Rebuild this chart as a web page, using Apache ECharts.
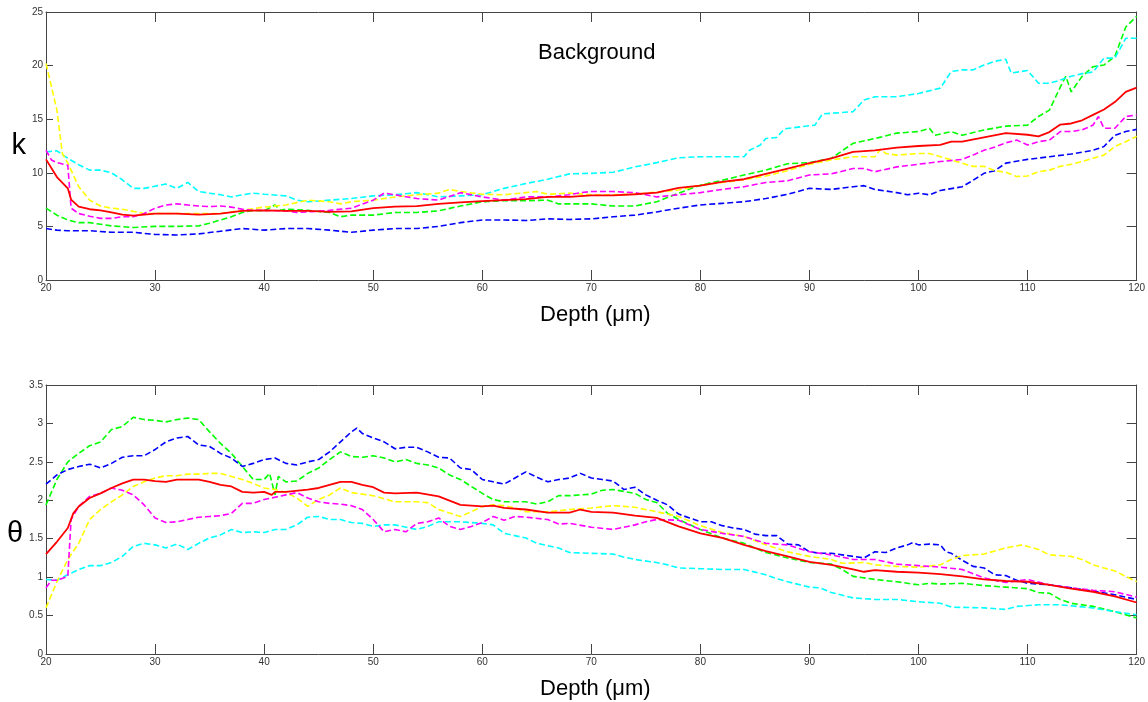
<!DOCTYPE html>
<html>
<head>
<meta charset="utf-8">
<script src="https://cdn.jsdelivr.net/npm/echarts@6/dist/echarts.min.js"></script>
<style>html,body{margin:0;padding:0;background:#fff}#c{width:1148px;height:702px}</style>
</head>
<body>
<div id="c"></div>
<script>
// ---- k (top panel) ----
var kRed = [[20,11.25],[21,9.6],[22,8.55],[22.3,7.5],[23,6.85],[24,6.6],[25,6.5],[26,6.3],[27,6.1],[28,6.0],[30,6.2],[32,6.2],[34,6.1],[36,6.2],[38,6.45],[40,6.5],[42,6.45],[44,6.45],[46,6.35],[48,6.4],[50,6.7],[52,6.85],[54,6.9],[56,7.1],[58,7.25],[60,7.35],[62,7.45],[64,7.55],[66,7.75],[68,7.75],[70,7.9],[72,7.9],[74,8.0],[76,8.15],[78,8.6],[80,8.8],[82,9.15],[84,9.4],[86,9.9],[88,10.4],[90,10.9],[92,11.35],[94,11.95],[96,12.1],[98,12.35],[100,12.5],[102,12.6],[103,12.9],[104,12.9],[106,13.3],[108,13.7],[110,13.55],[111,13.4],[112,13.8],[113,14.5],[114,14.6],[115,14.9],[116,15.4],[117,15.9],[118,16.6],[119,17.55],[120,17.95]];
var kBlue = [[20,4.8],[21,4.65],[22,4.6],[24,4.6],[26,4.45],[28,4.45],[30,4.25],[32,4.2],[34,4.3],[36,4.55],[38,4.8],[40,4.65],[42,4.8],[44,4.8],[46,4.65],[48,4.45],[50,4.65],[52,4.8],[54,4.8],[56,5.0],[58,5.35],[60,5.6],[62,5.6],[64,5.55],[66,5.7],[68,5.65],[70,5.7],[72,5.9],[74,6.05],[76,6.35],[78,6.7],[80,7.0],[82,7.15],[84,7.3],[86,7.6],[88,8.0],[90,8.55],[92,8.45],[94,8.7],[95,8.8],[96,8.45],[98,8.15],[99,7.95],[100,8.1],[101,7.95],[102,8.35],[104,8.7],[105,9.3],[106,9.95],[107,10.2],[108,10.9],[110,11.25],[112,11.5],[114,11.75],[116,12.1],[117,12.45],[118,13.5],[119,13.85],[120,14.05]];
var kGreen = [[20,6.7],[21,6.05],[22,5.6],[23,5.35],[24,5.35],[26,5.05],[28,4.9],[30,5.0],[32,5.0],[34,5.05],[35,5.3],[36,5.6],[37,5.9],[38,6.3],[39,6.5],[40,6.45],[41,7.0],[41.5,6.5],[42,6.6],[44,6.5],[46,6.3],[47,5.9],[48,6.05],[50,6.05],[52,6.3],[54,6.3],[56,6.45],[58,6.9],[60,7.3],[62,7.4],[64,7.4],[66,7.45],[67,7.1],[68,7.1],[70,7.1],[72,6.9],[74,6.9],[76,7.3],[78,8.1],[80,8.85],[82,9.3],[84,9.8],[86,10.25],[88,10.85],[90,10.95],[92,11.35],[94,12.75],[96,13.2],[98,13.7],[100,13.85],[101,14.15],[101.5,13.5],[103,13.85],[104,13.5],[106,14.0],[108,14.35],[110,14.45],[111,15.25],[112,15.85],[113,18.0],[113.5,19.0],[114,17.55],[115,19.0],[116,19.9],[117,20.05],[118,20.85],[119,23.6],[120,24.6]];
var kCyan = [[20,11.95],[21,12.05],[22,11.35],[23,10.75],[24,10.25],[25,10.25],[26,10.0],[27,9.35],[28,8.55],[29,8.55],[30,8.75],[31,8.95],[32,8.55],[33,9.1],[34,8.25],[35,8.1],[36,7.95],[37,7.75],[38,7.95],[39,8.1],[40,8.0],[42,7.85],[43,7.45],[44,7.3],[46,7.45],[48,7.6],[50,7.85],[52,7.95],[54,8.15],[56,7.75],[58,7.85],[60,7.95],[62,8.55],[64,9.0],[66,9.4],[68,9.9],[70,9.95],[72,10.05],[74,10.55],[76,10.95],[78,11.4],[80,11.5],[82,11.5],[84,11.5],[84.5,12.1],[85.5,12.6],[86,13.2],[87,13.3],[87.7,14.1],[90.5,14.45],[91.2,15.5],[92,15.55],[94,15.7],[95,16.8],[96,17.1],[98,17.1],[100,17.4],[102,17.9],[103,19.45],[104,19.6],[105,19.6],[106,20.05],[107,20.4],[108,20.6],[108.5,19.3],[110,19.55],[111,18.35],[112,18.35],[113,18.65],[114,19.0],[115,19.25],[116,19.4],[117,20.7],[118,20.7],[119,22.55],[120,22.55]];
var kMagenta = [[20,12.1],[20.5,11.2],[21,10.95],[22,10.7],[22.3,6.7],[23,6.2],[24,5.95],[25,5.75],[26,5.75],[27,5.9],[28,5.9],[29,6.2],[30,6.7],[31,7.0],[32,7.1],[33,7.0],[34,6.9],[35,6.85],[36,6.9],[37,6.8],[38,6.6],[39,6.5],[40,6.5],[42,6.45],[43,6.3],[44,6.35],[46,6.5],[48,6.7],[50,7.45],[51,8.1],[52,7.95],[54,7.6],[56,7.45],[58,8.15],[60,7.75],[62,7.45],[64,7.75],[66,7.75],[68,7.95],[69,8.15],[70,8.25],[72,8.25],[74,8.15],[76,7.75],[78,7.95],[80,8.15],[82,8.45],[84,8.7],[86,9.1],[88,9.25],[90,9.8],[92,9.9],[94,10.4],[95,10.4],[96,10.1],[98,10.55],[100,10.8],[102,11.05],[104,11.25],[105,11.65],[106,12.1],[107,12.4],[108,12.8],[109,13.05],[110,12.6],[111,12.9],[112,13.05],[113,13.85],[114,13.85],[115,14.0],[116,14.45],[116.5,15.25],[117,14.15],[118,14.15],[119,15.25],[120,15.4]];
var kYellow = [[20,20.2],[21,15.85],[21.5,11.8],[22,10.9],[23,8.7],[24,7.45],[25,6.9],[26,6.7],[27,6.6],[28,6.4],[29,6.2],[30,6.2],[32,6.2],[34,6.2],[36,6.2],[38,6.5],[40,6.8],[42,7.0],[44,7.45],[46,7.3],[47,7.1],[48,7.3],[50,7.45],[52,7.75],[54,7.95],[56,8.1],[57,8.45],[58,8.25],[60,8.0],[62,7.95],[64,8.15],[65,8.25],[66,8.0],[68,8.1],[70,7.95],[72,7.95],[74,8.0],[76,8.2],[78,8.4],[80,8.85],[82,9.1],[84,9.35],[86,9.7],[88,10.2],[90,10.8],[92,11.2],[94,11.5],[96,11.5],[96.5,12.2],[97,11.8],[98,11.65],[100,11.8],[101,11.8],[102,11.5],[103,11.2],[104,10.9],[105,10.6],[106,10.6],[107,10.2],[108,10.05],[109,9.65],[110,9.7],[111,10.1],[112,10.25],[113,10.6],[114,10.8],[115,11.05],[116,11.35],[117,11.65],[118,12.45],[119,12.9],[120,13.4]];

// ---- theta (bottom panel) ----
var tRed = [[20,1.3],[21,1.46],[22,1.64],[22.5,1.83],[23,1.92],[24,2.03],[25,2.09],[26,2.16],[27,2.22],[28,2.27],[29,2.27],[30,2.25],[31,2.24],[32,2.27],[33,2.27],[34,2.27],[35,2.24],[36,2.2],[37,2.18],[38,2.11],[39,2.1],[40,2.11],[40.7,2.07],[41,2.11],[42,2.11],[44,2.14],[45,2.16],[46,2.2],[47,2.24],[48,2.24],[49,2.2],[50,2.17],[51,2.1],[52,2.09],[54,2.1],[56,2.05],[58,1.94],[60,1.92],[61,1.93],[62,1.9],[64,1.88],[66,1.84],[68,1.84],[69,1.88],[70,1.85],[72,1.84],[74,1.8],[76,1.77],[78,1.66],[80,1.57],[82,1.51],[84,1.42],[86,1.34],[88,1.27],[90,1.2],[92,1.16],[94,1.1],[95,1.07],[96,1.09],[98,1.07],[100,1.06],[102,1.04],[104,1.01],[106,0.97],[108,0.95],[110,0.94],[112,0.9],[114,0.85],[116,0.81],[118,0.75],[120,0.67]];
var tBlue = [[20,2.21],[21,2.33],[22,2.4],[23,2.44],[24,2.47],[25,2.42],[26,2.48],[27,2.56],[28,2.58],[29,2.58],[30,2.66],[31,2.76],[32,2.81],[33,2.83],[34,2.72],[35,2.7],[36,2.61],[37,2.55],[38,2.44],[39,2.48],[40,2.53],[41,2.55],[42,2.48],[43,2.46],[44,2.5],[45,2.53],[46,2.63],[47,2.76],[48,2.89],[48.5,2.94],[49,2.87],[50,2.81],[51,2.76],[52,2.67],[53,2.69],[54,2.69],[55,2.63],[56,2.56],[57,2.55],[58,2.42],[59,2.4],[60,2.27],[61,2.24],[62,2.21],[63,2.29],[64,2.37],[65,2.3],[66,2.24],[67,2.27],[68,2.29],[69,2.35],[70,2.29],[71,2.27],[72,2.25],[73,2.14],[74,2.17],[75,2.07],[76,2.0],[77,1.94],[78,1.82],[79,1.77],[80,1.72],[81,1.72],[82,1.67],[83,1.64],[84,1.62],[85,1.56],[86,1.54],[87,1.54],[88,1.43],[89,1.42],[90,1.33],[91,1.31],[92,1.31],[93,1.29],[94,1.27],[95,1.25],[96,1.33],[97,1.32],[98,1.38],[99,1.42],[99.5,1.45],[100,1.42],[101,1.43],[102,1.42],[102.5,1.33],[103,1.31],[104,1.22],[105,1.14],[106,1.12],[107,1.03],[108,1.02],[109,0.96],[110,0.92],[112,0.9],[114,0.86],[116,0.82],[118,0.77],[120,0.71]];
var tGreen = [[20,1.94],[21,2.27],[22,2.5],[23,2.61],[24,2.71],[25,2.76],[26,2.92],[27,2.96],[28,3.08],[29,3.05],[30,3.04],[31,3.02],[32,3.05],[33,3.07],[34,3.05],[35,2.89],[36,2.74],[37,2.61],[38,2.44],[39,2.27],[40,2.27],[40.5,2.35],[41,2.07],[41.3,2.31],[42,2.24],[43,2.25],[44,2.35],[45,2.42],[46,2.53],[47,2.63],[48,2.57],[49,2.56],[50,2.58],[51,2.55],[52,2.5],[53,2.53],[54,2.48],[55,2.46],[56,2.42],[57,2.33],[58,2.27],[59,2.18],[60,2.09],[61,2.01],[62,1.98],[64,1.98],[65,1.95],[66,1.98],[67,2.06],[68,2.06],[70,2.08],[71,2.13],[72,2.14],[74,2.09],[75,2.01],[76,1.97],[77,1.83],[78,1.75],[80,1.62],[82,1.51],[84,1.44],[86,1.32],[88,1.25],[90,1.19],[92,1.17],[93,1.1],[94,1.01],[96,0.97],[98,0.94],[100,0.9],[101,0.92],[102,0.91],[104,0.92],[106,0.89],[108,0.87],[110,0.85],[111,0.8],[112,0.79],[113,0.71],[114,0.66],[116,0.62],[118,0.55],[120,0.47]];
var tCyan = [[20,0.97],[21,0.96],[22,1.03],[23,1.1],[24,1.15],[25,1.15],[26,1.19],[27,1.27],[28,1.4],[29,1.44],[30,1.42],[31,1.38],[32,1.43],[33,1.36],[34,1.44],[35,1.51],[36,1.55],[37,1.62],[38,1.58],[39,1.59],[40,1.58],[41,1.62],[42,1.62],[43,1.68],[44,1.78],[45,1.79],[46,1.75],[47,1.75],[48,1.71],[49,1.7],[50,1.66],[51,1.68],[52,1.68],[54,1.62],[55,1.66],[56,1.72],[58,1.72],[60,1.7],[61,1.68],[62,1.57],[64,1.51],[65,1.44],[66,1.41],[67,1.38],[68,1.32],[70,1.31],[72,1.3],[73,1.26],[74,1.23],[76,1.19],[77,1.16],[78,1.12],[80,1.11],[82,1.1],[84,1.1],[86,1.03],[87,0.98],[88,0.94],[90,0.87],[91,0.86],[92,0.8],[94,0.73],[96,0.71],[98,0.71],[100,0.68],[102,0.66],[103,0.61],[106,0.6],[108,0.58],[109,0.62],[111,0.64],[113,0.64],[116,0.6],[118,0.55],[120,0.51]];
var tMagenta = [[20,0.86],[20.5,0.96],[21,0.96],[22,1.01],[22.3,1.75],[23,1.92],[24,2.05],[25,2.09],[26,2.16],[27,2.13],[28,2.07],[29,1.94],[30,1.77],[31,1.71],[32,1.72],[33,1.75],[34,1.78],[35,1.79],[36,1.8],[37,1.83],[38,1.96],[39,1.96],[40,2.01],[41,2.04],[42,2.07],[43,2.1],[44,2.03],[45,1.98],[46,1.96],[47,1.95],[48,1.93],[49,1.88],[50,1.75],[51,1.59],[52,1.62],[53,1.59],[54,1.7],[55,1.72],[56,1.77],[57,1.66],[58,1.62],[59,1.66],[60,1.71],[61,1.79],[62,1.74],[63,1.79],[64,1.78],[66,1.75],[67,1.69],[68,1.7],[70,1.65],[72,1.62],[74,1.68],[75,1.72],[76,1.75],[78,1.74],[80,1.62],[82,1.57],[84,1.53],[86,1.44],[88,1.42],[90,1.33],[92,1.29],[94,1.23],[96,1.23],[98,1.17],[100,1.15],[102,1.13],[104,1.1],[106,0.99],[108,0.93],[110,0.97],[112,0.9],[114,0.86],[116,0.83],[118,0.81],[120,0.74]];
var tYellow = [[20,0.6],[21,0.94],[22,1.23],[23,1.44],[24,1.75],[25,1.88],[26,1.98],[27,2.07],[28,2.18],[29,2.24],[30,2.29],[31,2.32],[32,2.32],[33,2.34],[34,2.34],[35,2.35],[36,2.35],[37,2.31],[38,2.27],[39,2.22],[40,2.16],[41,2.14],[42,2.1],[43,2.03],[44,1.92],[45,2.01],[46,2.07],[47,2.16],[48,2.1],[50,2.06],[52,1.98],[54,1.98],[55,1.97],[56,1.88],[58,1.79],[59,1.85],[60,1.92],[61,1.94],[62,1.93],[63,1.9],[64,1.85],[66,1.85],[68,1.88],[70,1.9],[72,1.93],[74,1.91],[76,1.85],[78,1.79],[80,1.67],[82,1.58],[84,1.53],[86,1.42],[88,1.33],[90,1.27],[92,1.23],[93,1.18],[95,1.19],[96,1.16],[98,1.14],[100,1.13],[102,1.16],[103,1.23],[104,1.28],[106,1.3],[108,1.38],[109.5,1.42],[111,1.36],[112,1.29],[114,1.27],[115,1.23],[116,1.16],[118,1.08],[120,0.94]];

var kTicks = [0,5,10,15,20,25];
var thetaTicks = [0,0.5,1,1.5,2,2.5,3,3.5];
var depthTicks = [20,30,40,50,60,70,80,90,100,110,120];

var FONT = 'Liberation Sans';
var labelStyle = {color:'#333', fontSize:10, fontFamily:FONT};

function xAxes(gi){
  return [
    {gridIndex:gi, type:'value', position:'bottom', min:depthTicks[0], max:depthTicks[depthTicks.length-1], interval:10,
     name:'Depth (\u03bcm)', nameLocation:'middle', nameGap:24,
     nameTextStyle:{fontSize:22, fontFamily:FONT, color:'#000', padding:[0,0,0,8]},
     axisLine:{show:true, onZero:false, lineStyle:{color:'#444'}},
     axisTick:{show:true, inside:true, length:10, lineStyle:{color:'#444'}},
     axisLabel:Object.assign({margin:3}, labelStyle),
     splitLine:{show:false}},
    {gridIndex:gi, type:'value', position:'top', min:depthTicks[0], max:depthTicks[depthTicks.length-1], interval:10,
     axisLine:{show:true, onZero:false, lineStyle:{color:'#444'}},
     axisTick:{show:true, inside:true, length:10, lineStyle:{color:'#444'}},
     axisLabel:{show:false}, splitLine:{show:false}}
  ];
}
function yAxes(gi, ticks, name, vAlign){
  var max = ticks[ticks.length-1], interval = ticks[1]-ticks[0];
  return [
    {gridIndex:gi, type:'value', position:'left', min:0, max:max, interval:interval,
     name:name, nameLocation:'middle', nameRotate:0, nameGap:18,
     nameTextStyle:{fontSize:29, fontFamily:FONT, color:'#000', verticalAlign:vAlign, lineHeight:29},
     axisLine:{show:true, onZero:false, lineStyle:{color:'#444'}},
     axisTick:{show:true, inside:true, length:7, lineStyle:{color:'#444'}},
     axisLabel:Object.assign({margin:3}, labelStyle),
     splitLine:{show:false}},
    {gridIndex:gi, type:'value', position:'right', min:0, max:max, interval:interval,
     axisLine:{show:true, onZero:false, lineStyle:{color:'#444'}},
     axisTick:{show:true, inside:true, length:10, lineStyle:{color:'#444'}},
     axisLabel:{show:false}, splitLine:{show:false}}
  ];
}

function mk(data, color, xi, yi, dashed){
  return {type:'line', data:data, xAxisIndex:xi, yAxisIndex:yi, showSymbol:false, symbol:'none',
    smooth:false, animation:false, z: dashed?2:3,
    lineStyle:{color:color, width: dashed?1.6:1.8, type: dashed?[6,3]:'solid'}};
}

var chart = echarts.init(document.getElementById('c'), null, {renderer:'canvas'});
chart.setOption({
  animation:false,
  backgroundColor:'#fff',
  title:{text:'Background', left:533, top:37, textStyle:{fontSize:22, fontWeight:'normal', fontFamily:FONT, color:'#000'}},
  grid:[
    {left:46, top:12, width:1091, height:268},
    {left:46, top:385, width:1091, height:269}
  ],
  xAxis: xAxes(0).concat(xAxes(1)),
  yAxis: yAxes(0, kTicks, 'k', 'middle').concat(yAxes(1, thetaTicks, '\u03b8', 'top')),
  series:[
    mk(kGreen,'#00ff00',0,0,true),
    mk(kCyan,'#00ffff',0,0,true),
    mk(kBlue,'#0000ff',0,0,true),
    mk(kYellow,'#ffff00',0,0,true),
    mk(kMagenta,'#ff00ff',0,0,true),
    mk(kRed,'#ff0000',0,0,false),
    mk(tGreen,'#00ff00',2,2,true),
    mk(tCyan,'#00ffff',2,2,true),
    mk(tBlue,'#0000ff',2,2,true),
    mk(tYellow,'#ffff00',2,2,true),
    mk(tMagenta,'#ff00ff',2,2,true),
    mk(tRed,'#ff0000',2,2,false)
  ]
});
</script>
</body>
</html>
